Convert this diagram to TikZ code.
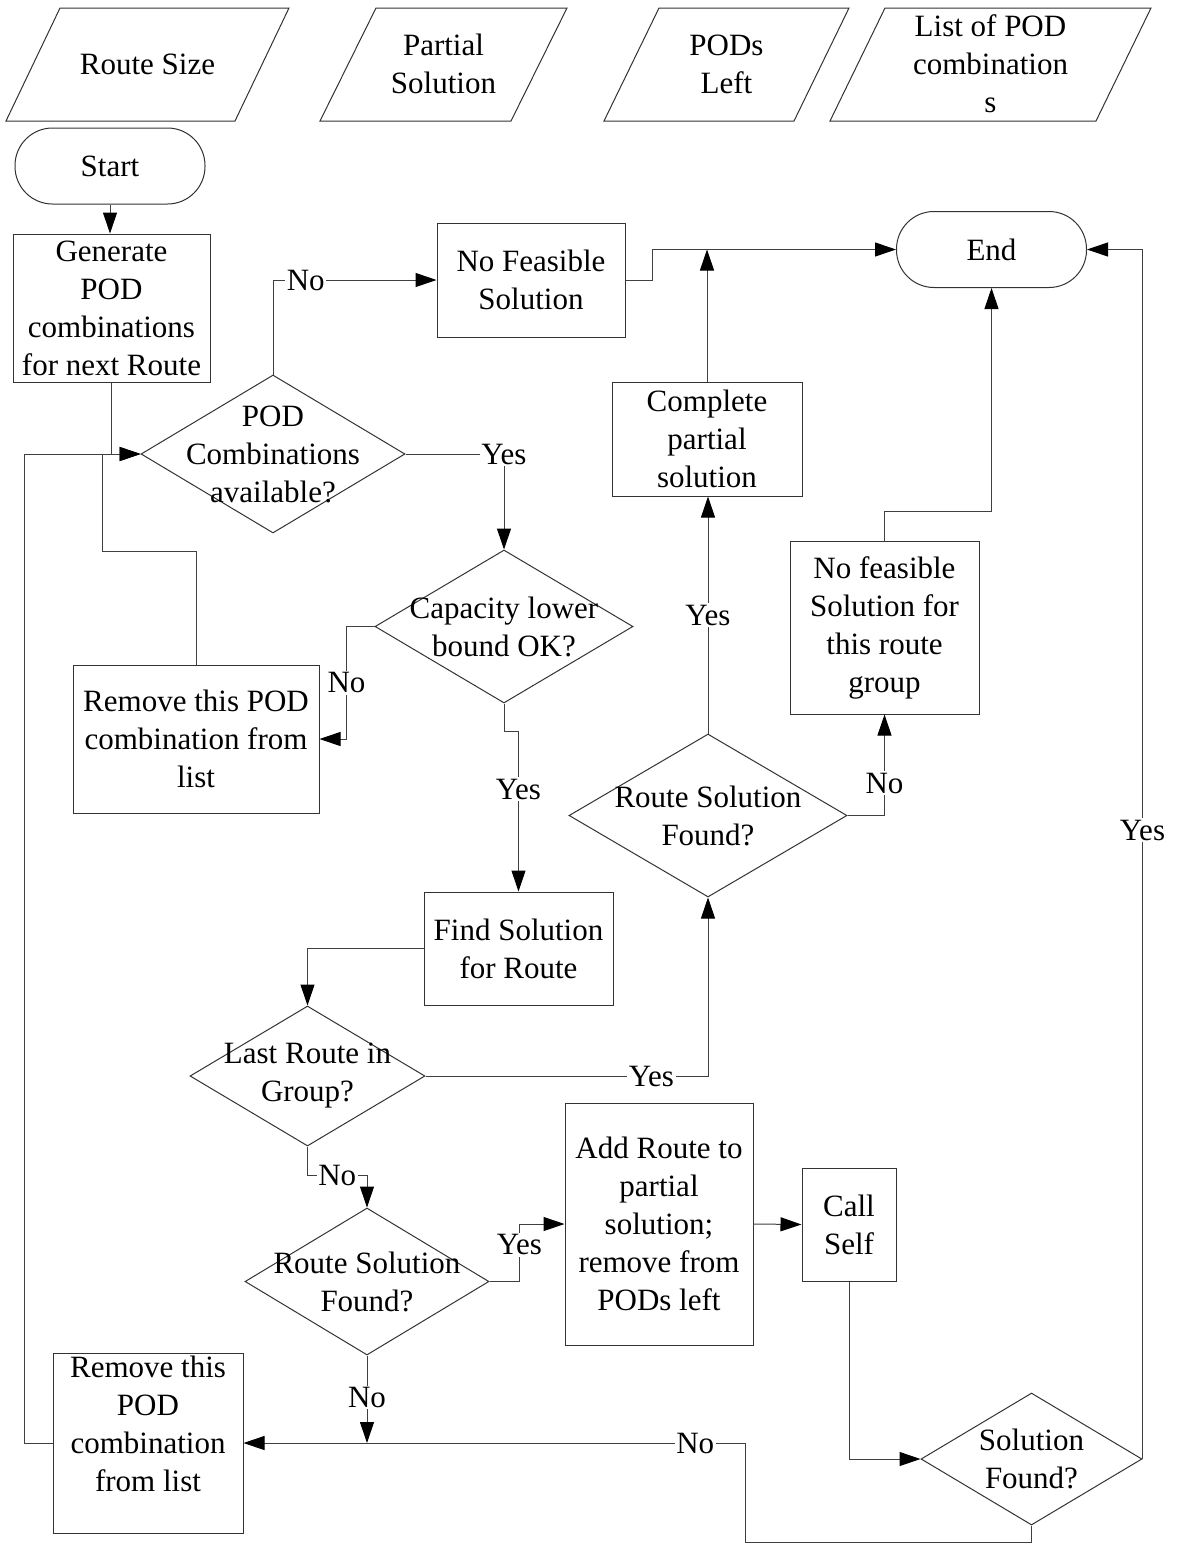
\documentclass[tikz,border=0pt]{standalone}
\usepackage{fontspec}
\setmainfont{Liberation Serif}
\usetikzlibrary{arrows.meta,shapes.geometric}
\begin{document}
\begin{tikzpicture}[x=1pt,y=-1pt,
  every node/.style={font=\fontsize{31pt}{38pt}\selectfont, align=center, inner sep=0pt},
  outline/.style={draw=black!80, line width=1pt},
  box/.style={outline, rectangle},
  term/.style={outline, rectangle, rounded corners=37.5pt, minimum width=190pt, minimum height=76pt},
  dec/.style={outline, diamond},
  wire/.style={draw=black!75, line width=1pt},
  arr/.style={wire, -{Triangle[length=21pt,width=14pt,color=black]}},
  lbl/.style={fill=white, inner sep=1.5pt}
]
\fill[white] (0,0) rectangle (1178,1545);
\useasboundingbox (0,0) rectangle (1178,1545);

% data parallelograms along the top
\draw[outline] (6,121) -- ++(229,0) -- ++(54,-113) -- ++(-229,0) -- cycle;
\node (inA) at (147.5,64) {Route Size};
\draw[outline] (320,121) -- ++(191,0) -- ++(56,-113) -- ++(-191,0) -- cycle;
\node (inB) at (443.5,64) {Partial\\Solution};
\draw[outline] (604,121) -- ++(190,0) -- ++(55,-113) -- ++(-190,0) -- cycle;
\node (inC) at (726.5,64) {PODs\\Left};
\draw[outline] (830,121) -- ++(266,0) -- ++(55,-113) -- ++(-266,0) -- cycle;
\node (inD) at (990.5,64) {List of POD\\combination\\s};

% flow nodes
\node[term] (start) at (110,166) {Start};
\node[box, minimum width=197pt, minimum height=148pt] (gen) at (111.5,308) {Generate\\POD\\combinations\\for next Route};
\node[dec, minimum width=264pt, minimum height=158pt, label=center:{POD\\Combinations\\available?}] (d1) at (273,454) {};
\node[box, minimum width=188pt, minimum height=114pt] (nofeas) at (531,280) {No Feasible\\Solution};
\node[term] (end) at (991.5,249.5) {End};
\node[box, minimum width=190pt, minimum height=114pt] (compl) at (707,439) {Complete\\partial\\solution};
\node[dec, minimum width=278pt, minimum height=163pt, label=center:{Route Solution\\Found?}] (rs1) at (708,815.5) {};
\node[box, minimum width=189pt, minimum height=173pt] (nofg) at (884.5,627.5) {No feasible\\Solution for\\this route\\group};
\node[dec, minimum width=258pt, minimum height=153pt, label=center:{Capacity lower\\bound OK?}] (cap) at (504,626.5) {};
\node[box, minimum width=246pt, minimum height=148pt] (rem1) at (196,739) {Remove this POD\\combination from\\list};
\node[box, minimum width=189pt, minimum height=113pt] (find) at (518.5,948.5) {Find Solution\\for Route};
\node[dec, minimum width=235pt, minimum height=140pt, label=center:{Last Route in\\Group?}] (last) at (307.5,1076) {};
\node[dec, minimum width=244pt, minimum height=147pt, label=center:{Route Solution\\Found?}] (rs2) at (367,1281.5) {};
\node[box, minimum width=188pt, minimum height=242pt] (add) at (659,1224) {Add Route to\\partial\\solution;\\remove from\\PODs left};
\node[box, minimum width=94pt, minimum height=113pt] (call) at (849,1224.5) {Call\\Self};
\node[dec, minimum width=221pt, minimum height=132pt, label=center:{Solution\\Found?}] (sf) at (1031.5,1459) {};
\node[box, minimum width=190pt, minimum height=180pt, label={[yshift=19pt]center:{Remove this\\POD\\combination\\from list}}] (rem2) at (148,1443) {};

% helper points where loops join
\path (d1.west) ++(-38,0) coordinate (j1);
\path (rem2.east) ++(502,0) coordinate (nbend);

% connectors
\draw[arr] (start.south) -- (start.south |- gen.north);
\draw[arr] (gen.south) |- (d1.west);
\draw[arr] (d1.north) |- node[lbl, pos=0.6] {No} (nofeas.west);
\draw[arr] (nofeas.east) -- ++(27,0) |- (end.west);
\draw[arr] (compl.north) -- (compl.north |- end.west);
\draw[arr] (rs1.north) -- node[lbl, pos=0.5] {Yes} (rs1.north |- compl.south);
\draw[arr] (rs1.east) -| node[lbl, pos=0.66] {No} (nofg.south);
\draw[arr] (nofg.north) -- ++(0,-29) -| (end.south);
\draw[arr] (sf.east) |- node[lbl, pos=0.26] {Yes} (end.east);
\draw[arr] (d1.east) -| node[lbl, pos=0.5] {Yes} (cap.north);
\draw[arr] (cap.west) -- ++(-28,0) |- node[lbl, pos=0.25] {No} (rem1.east);
\draw[wire] (rem1.north) -- ++(0,-113) -| (j1);
\draw[arr] (cap.south) -- ++(0,28) -| node[lbl, pos=0.68] {Yes} (find.north);
\draw[arr] (find.west) -| (last.north);
\draw[arr] (last.east) -| node[lbl, pos=0.4] {Yes} (rs1.south);
\draw[arr] (last.south) -- ++(0,29) -| node[lbl, pos=0.25] {No} (rs2.north);
\draw[arr] (rs2.east) -- ++(30,0) |- node[lbl, pos=0.32] {Yes} (add.west);
\draw[arr] (add.east) -- (call.west);
\draw[arr] (call.south) |- (sf.west);
\draw[arr] (sf.south) -- ++(0,17) -| (nbend) -- node[lbl, pos=0.1] {No} (rem2.east);
\draw[arr] (rs2.south) -- node[lbl, pos=0.48] {No} (rs2.south |- rem2.east);
\draw[arr] (rem2.west) -- ++(-28,0) |- (d1.west);
\end{tikzpicture}
\end{document}
